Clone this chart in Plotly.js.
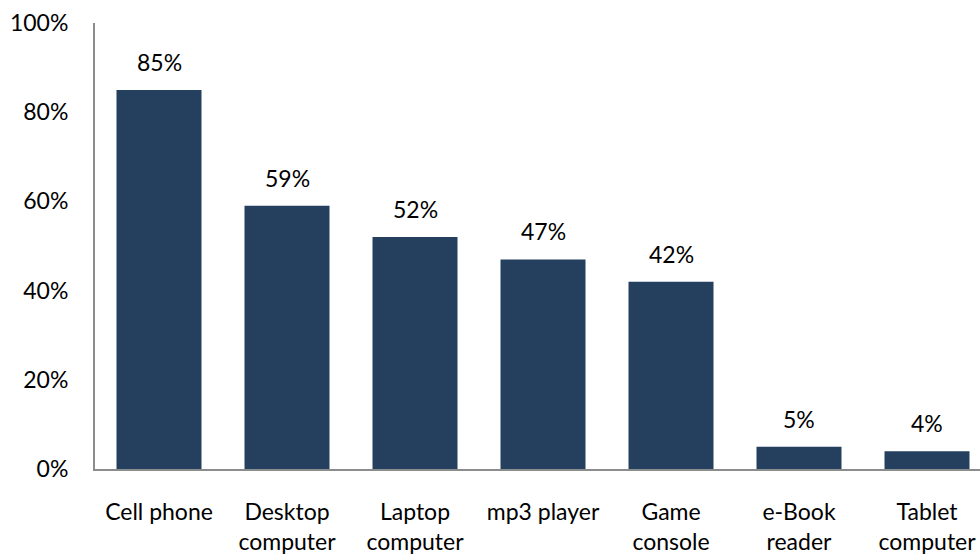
<!DOCTYPE html>
<html>
<head>
<meta charset="utf-8">
<script src="https://cdn.plot.ly/plotly-3.0.1.min.js"></script>
<style>html,body{margin:0;padding:0;background:#fff;}#chart{width:980px;height:559px;}</style>
</head>
<body>
<div id="chart"></div>
<script>
var categories = ["Cell phone", "Desktop<br>computer", "Laptop<br>computer", "mp3 player", "Game<br>console", "e-Book<br>reader", "Tablet<br>computer"];
var values = [85, 59, 52, 47, 42, 5, 4];
var yTickVals = [0, 20, 40, 60, 80, 100];
var yTickText = ["0%", "20%", "40%", "60%", "80%", "100%"];

var FONT = "Lato, 'Open Sans', sans-serif";
var FS = 23;
var barColor = "#253f5f";

var trace = {
  type: "bar",
  x: categories.map(function(c, i){ return i; }),
  y: values,
  marker: {color: barColor, line: {width: 0}},
  hoverinfo: "none"
};

var annotations = values.map(function(v, i){
  return {
    x: i, y: v, xref: "x", yref: "y",
    text: v + "%", showarrow: false,
    yanchor: "middle", yshift: 28,
    font: {family: FONT, size: FS, color: "#000"}
  };
});

var layout = {
  width: 980, height: 559,
  margin: {l: 95, r: 0, t: 23, b: 90},
  paper_bgcolor: "#fff", plot_bgcolor: "#fff",
  showlegend: false,
  bargap: 0.336,
  font: {family: FONT, size: FS, color: "#000"},
  xaxis: {
    range: [-0.5, 6.414],
    tickmode: "array",
    tickvals: categories.map(function(c, i){ return i; }),
    ticktext: categories,
    showgrid: false, zeroline: false,
    showline: true, linecolor: "#8c8c8c", linewidth: 2,
    ticks: "", ticklabelstandoff: 21,
    tickfont: {family: FONT, size: FS, color: "#000"},
    fixedrange: true
  },
  yaxis: {
    range: [0, 100],
    tickmode: "array",
    tickvals: yTickVals,
    ticktext: yTickText,
    showgrid: false, zeroline: false,
    showline: true, linecolor: "#8c8c8c", linewidth: 2,
    ticks: "", ticklabelstandoff: 20,
    tickfont: {family: FONT, size: FS, color: "#000"},
    fixedrange: true
  },
  annotations: annotations
};

Plotly.newPlot("chart", [trace], layout, {displayModeBar: false, staticPlot: true});
</script>
</body>
</html>
